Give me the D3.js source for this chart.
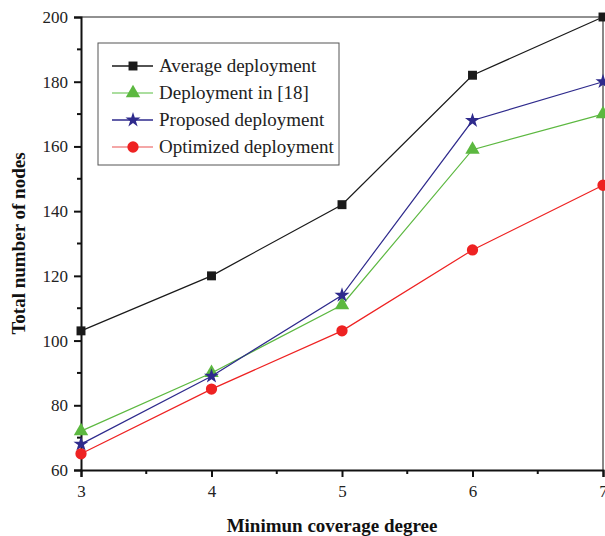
<!DOCTYPE html>
<html>
<head>
<meta charset="utf-8">
<script src="https://cdn.jsdelivr.net/npm/d3@7"></script>
<style>
  body { margin: 0; background: #fff; }
  text { font-family: "Liberation Serif", "Times New Roman", serif; }
</style>
</head>
<body>
<svg></svg>
<script>
const w = 605;
const h = 536;

const degrees = [3, 4, 5, 6, 7];
const averageDeployment = [103, 120, 142, 182, 200];
const deploymentIn18 = [72, 90, 111, 159, 170];
const proposedDeployment = [68, 89, 114, 168, 180];
const optimizedDeployment = [65, 85, 103, 128, 148];
const yTicks = [60, 80, 100, 120, 140, 160, 180, 200];

const series = [
  { name: 'Average deployment', values: averageDeployment, color: '#1a1a1a', legendColor: '#1a1a1a', symbol: d3.symbolSquare, size: 80 },
  { name: 'Deployment in [18]', values: deploymentIn18, color: '#5cb840', legendColor: '#8fd37f', symbol: d3.symbolTriangle, size: 90 },
  { name: 'Proposed deployment', values: proposedDeployment, color: '#2e2a8c', legendColor: '#2e2a8c', symbol: d3.symbolStar, size: 70 },
  { name: 'Optimized deployment', values: optimizedDeployment, color: '#ee2222', legendColor: '#f08a8a', symbol: d3.symbolCircle, size: 100 }
];

const svg = d3.select('svg').attr('width', w).attr('height', h);

const mLeft = 81, mRight = 603, mTop = 17, mBottom = 470;

const x = d3.scaleLinear().domain([3, 7]).range([mLeft, mRight]);
const y = d3.scaleLinear().domain([60, 200]).range([mBottom, mTop]);

// frame top + right
svg.append('line').attr('x1', mLeft).attr('x2', mRight).attr('y1', mTop).attr('y2', mTop)
  .attr('stroke', '#222').attr('stroke-width', 1);
svg.append('line').attr('x1', mRight).attr('x2', mRight).attr('y1', mTop).attr('y2', mBottom)
  .attr('stroke', '#888').attr('stroke-width', 2);

// minor ticks
svg.append('g')
  .selectAll('line')
  .data(d3.range(70, 200, 20))
  .enter()
  .append('line')
  .attr('x1', mLeft).attr('x2', mLeft - 4)
  .attr('y1', d => y(d)).attr('y2', d => y(d))
  .attr('stroke', '#111').attr('stroke-width', 2);

svg.append('g')
  .selectAll('line')
  .data([3.5, 4.5, 5.5, 6.5])
  .enter()
  .append('line')
  .attr('x1', d => x(d)).attr('x2', d => x(d))
  .attr('y1', mBottom).attr('y2', mBottom + 4)
  .attr('stroke', '#111').attr('stroke-width', 2);

const yAxis = svg.append('g')
  .attr('transform', `translate(${mLeft},0)`)
  .call(d3.axisLeft(y).tickValues(yTicks).tickSize(7).tickPadding(6));

const xAxis = svg.append('g')
  .attr('transform', `translate(0,${mBottom})`)
  .call(d3.axisBottom(x).tickValues(degrees).tickSize(7).tickPadding(8).tickFormat(d3.format('d')));

[yAxis, xAxis].forEach(g => {
  g.select('.domain').attr('stroke', '#111').attr('stroke-width', 2);
  g.selectAll('.tick line').attr('stroke', '#111').attr('stroke-width', 2);
  g.selectAll('.tick text')
    .attr('fill', '#222')
    .style('font-family', '"Liberation Serif", serif')
    .style('font-size', '17px');
});

// axis titles
svg.append('text')
  .text('Total number of nodes')
  .attr('transform', `translate(25,${(mTop + mBottom) / 2}) rotate(-90)`)
  .attr('text-anchor', 'middle')
  .style('font-weight', 'bold')
  .style('font-size', '19px')
  .attr('fill', '#111');

svg.append('text')
  .text('Minimun coverage degree')
  .attr('x', 332)
  .attr('y', 532)
  .attr('text-anchor', 'middle')
  .style('font-weight', 'bold')
  .style('font-size', '19px')
  .attr('fill', '#111');

// lines + markers
const line = d3.line().x((d, i) => x(degrees[i])).y(d => y(d));

series.forEach(s => {
  svg.append('path')
    .datum(s.values)
    .attr('d', line)
    .attr('fill', 'none')
    .attr('stroke', s.color)
    .attr('stroke-width', 1.2);

  svg.append('g')
    .selectAll('path')
    .data(s.values)
    .enter()
    .append('path')
    .attr('d', d3.symbol().type(s.symbol).size(s.size))
    .attr('transform', (d, i) => `translate(${x(degrees[i])},${y(d)})`)
    .attr('fill', s.color);
});

// legend
const legend = svg.append('g');
legend.append('rect')
  .attr('x', 98).attr('y', 43)
  .attr('width', 241).attr('height', 122)
  .attr('fill', '#fff')
  .attr('stroke', '#555')
  .attr('stroke-width', 1);

series.forEach((s, i) => {
  const ly = 66 + i * 27;
  legend.append('line')
    .attr('x1', 112).attr('x2', 153)
    .attr('y1', ly).attr('y2', ly)
    .attr('stroke', s.legendColor)
    .attr('stroke-width', 1.5);
  legend.append('path')
    .attr('d', d3.symbol().type(s.symbol).size(s.size))
    .attr('transform', `translate(133,${ly})`)
    .attr('fill', s.color);
  legend.append('text')
    .text(s.name)
    .attr('x', 159)
    .attr('y', ly + 6)
    .style('font-size', '19px')
    .attr('fill', '#222');
});
</script>
</body>
</html>
